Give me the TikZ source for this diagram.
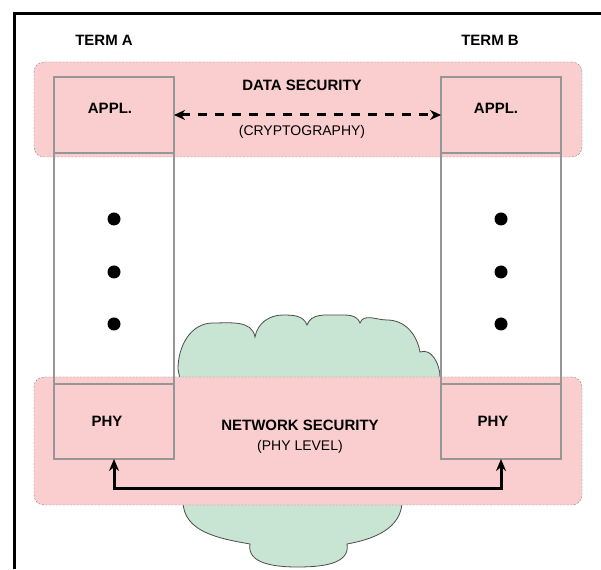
\documentclass[tikz,border=0pt]{standalone}
\usepackage{fontspec}
\setmainfont{Liberation Sans}
\usepackage{tikz}
\usetikzlibrary{arrows.meta}
\definecolor{bandpink}{RGB}{250,206,206}
\definecolor{cloudgreen}{RGB}{200,228,210}
\definecolor{boxgray}{RGB}{150,150,150}
\tikzstyle{secband} = [draw=gray, dash pattern=on 2pt off 1.5pt, rounded corners=10pt, fill=bandpink, inner sep=0pt, outer sep=0pt, minimum width=548pt]
\tikzstyle{layerbox} = [draw=boxgray, line width=1.2pt, inner sep=0pt, outer sep=0pt, minimum width=120pt]
\tikzstyle{layerdot} = [circle, fill=black, inner sep=0pt, minimum size=13pt]
\tikzstyle{lbl} = [font=\bfseries\fontsize{15}{18}\selectfont, inner sep=0pt]
\tikzstyle{sublbl} = [font=\fontsize{14}{17}\selectfont, inner sep=0pt]
\tikzstyle{cryptoarrow} = [line width=3pt, dash pattern=on 9pt off 8pt, {Stealth[length=11pt,width=10pt]}-{Stealth[length=11pt,width=10pt]}]
\tikzstyle{linkarrow} = [line width=3pt, {Stealth[length=12pt,width=10pt]}-{Stealth[length=12pt,width=10pt]}]

\begin{document}
\begin{tikzpicture}[x=1pt,y=1pt]
            \useasboundingbox (0,0) rectangle (601,569);
            % frame
            \draw[line width=2.5pt] (14.5,0) -- (14.5,555.5) -- (601,555.5);

            % network cloud
            \draw[fill=cloudgreen, draw=black!70, line width=0.8pt]
                (180,190) -- (178,200) to[out=90,in=180] (213,246) to[out=0,in=100] (255,232)
                to[out=80,in=180] (283,254) to[out=0,in=110] (307,244)
                to[out=70,in=180] (337,254) to[out=0,in=110] (360,246)
                to[out=70,in=180] (387,249) to[out=0,in=100] (420,217)
                to[out=20,in=90] (440,192) -- (402,68)
                to[out=-90,in=10] (347,25) to[out=-80,in=0] (297,2)
                to[out=180,in=-100] (250,25) to[out=170,in=-90] (183,68) -- cycle;

            % security bands
            \node[secband, minimum height=95pt] (databand) at (308,459.5) {};
            \node[secband, minimum height=128pt] (netband) at (308,128) {};

            % terminal stacks
            \node[layerbox, minimum height=76pt] (applA) at (114,454) {};
            \node[layerbox, minimum height=231pt] (midA) at (114,300.5) {};
            \node[layerbox, minimum height=75pt] (phyA) at (114,147.5) {};
            \node[layerbox, minimum height=76pt] (applB) at (501,454) {};
            \node[layerbox, minimum height=231pt] (midB) at (501,300.5) {};
            \node[layerbox, minimum height=75pt] (phyB) at (501,147.5) {};

            \foreach \i/\y in {1/350,2/297,3/245} {
                \node[layerdot] (dotA\i) at (114,\y) {};
                \node[layerdot] (dotB\i) at (501,\y) {};
            }

            % labels
            \node[lbl] (termA) at (104,529) {TERM A};
            \node[lbl] (termB) at (490,529) {TERM B};
            \node[lbl] (applAtxt) at ([xshift=-4pt,yshift=7pt]applA.center) {APPL.};
            \node[lbl] (applBtxt) at ([xshift=-5pt,yshift=7pt]applB.center) {APPL.};
            \node[lbl] (phyAtxt) at ([xshift=-7pt]phyA.center) {PHY};
            \node[lbl] (phyBtxt) at ([xshift=-8pt]phyB.center) {PHY};
            \node[lbl] (datasec) at (302,484) {DATA SECURITY};
            \node[sublbl] (crypto) at (302,437) {(CRYPTOGRAPHY)};
            \node[lbl] (netsec) at (300,144) {NETWORK SECURITY};
            \node[sublbl] (phylevel) at (300,122) {(PHY LEVEL)};

            % links
            \draw[cryptoarrow] (applA.east) -- (applB.west);
            \draw[linkarrow] (phyA.south) -- ++(0,-30) -| (phyB.south);
        \end{tikzpicture}
\end{document}
